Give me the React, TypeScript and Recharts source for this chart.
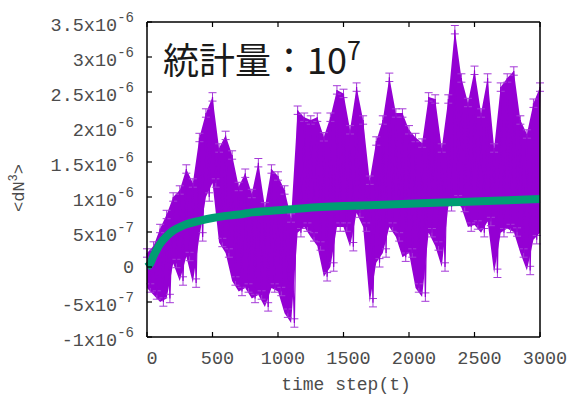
import { ComposedChart, Line, Area, XAxis, YAxis, ErrorBar } from 'recharts';

// time step readings (every 50) with upper / lower envelope of <dN^3>, in units of 1e-7
const T = [
  0, 50, 100, 150, 200, 250, 300, 350, 400, 450, 500, 550, 600, 650, 700, 750, 800, 850, 900, 950,
  1000, 1050, 1100, 1150, 1200, 1250, 1300, 1350, 1400, 1450, 1500, 1550, 1600, 1650, 1700, 1750,
  1800, 1850, 1900, 1950, 2000, 2050, 2100, 2150, 2200, 2250, 2300, 2350, 2400, 2450, 2500, 2550,
  2600, 2650, 2700, 2750, 2800, 2850, 2900, 2950, 3000,
];
const HI = [
  2, 3, 5.5, 7.5, 10, 11, 14, 12, 18.5, 22, 24.3, 17, 18.8, 16, 11.5, 13.4, 10.5, 14.9, 8.6, 14,
  13, 11, 7, 22.4, 21.4, 21, 21.4, 18.6, 21.4, 25.3, 24.8, 19.6, 25.7, 21, 12.4, 18,
  21, 27.1, 22, 22, 19.6, 18.5, 17.7, 24.3, 24, 17, 24, 33.9, 27, 23.5, 28.1, 22,
  27, 17, 25.7, 27, 28, 21, 19, 23.4, 25.7,
];
const LO = [
  -3, -4, -5, -4.5, 0.5, -2, 1.5, -2.3, 4.3, 10, 12, 3.5, 2, -2, -3.5, -3, -4.5, -4, -5.7, -3,
  -3.5, -6.6, -8, 4.9, 5.7, 4.3, 3, -1.4, 0, 5.7, 5.7, 2.9, 7.7, 5.7, -5.1, 0.6,
  2, 5.7, 4.3, 1.4, 2, -3, -4.3, 4.9, 3, 0, 8.6, 9.6, 8.5, 5.7, 6, 4.9,
  6.5, -0.9, 4.9, 5.5, 5, 2, -0.5, 3.9, 4.9,
];
const ERR = 0.6;

// fitted curve
const FIT_T = [0, 25, 50, 75, 100, 150, 200, 250, 300, 400, 500, 600, 700, 800, 1000, 1200, 1500, 1800, 2100, 2400, 2700, 3000];
const FIT_V = [0, 0.5, 1.6, 2.5, 3.3, 4.4, 5.2, 5.7, 6.1, 6.6, 7.0, 7.3, 7.5, 7.8, 8.1, 8.4, 8.7, 8.9, 9.1, 9.3, 9.5, 9.7];

const X_TICKS = [0, 500, 1000, 1500, 2000, 2500, 3000];
const Y_TICKS = [-10, -5, 0, 5, 10, 15, 20, 25, 30, 35];

const PURPLE = '#9400d3';
const GREEN = '#009e73';
const INK = '#4c4c4c';
const MONO = '"Liberation Mono", "DejaVu Sans Mono", monospace';
const P = { l: 147, r: 540, t: 22, b: 337 };

// one row every 25 steps: upper value on the reading, lower value half way to the next
const rows: any[] = [];
T.forEach((t, i) => {
  rows.push({ t, band: [LO[i], HI[i]], v: HI[i], e: ERR });
  if (i < T.length - 1) rows.push({ t: t + 25, v: LO[i], e: ERR });
});
FIT_T.forEach((t, i) => {
  const r = rows.find((d) => d.t === t);
  if (r) r.g = FIT_V[i];
});

function fmtY(v: number) {
  if (v === 0) return { base: '0', exp: '' };
  if (Math.abs(v) === 5) return { base: `${v}x10`, exp: '-7' };
  return { base: `${v / 10}x10`, exp: '-6' };
}

const LeftTick = (props: any) => {
  const { y, payload } = props;
  const { base, exp } = fmtY(payload.value);
  return (
    <g>
      <line x1={P.l} x2={P.l + 5} y1={y} y2={y} stroke="#000" strokeWidth={1.2} />
      <text x={134} y={y + (exp ? 9 : 6)} textAnchor="end" fill={INK} fontFamily={MONO} fontSize={18.5}>
        {base}
        {exp && <tspan dy={-9} fontSize={14}>{exp}</tspan>}
      </text>
    </g>
  );
};

const RightTick = (props: any) => (
  <line x1={P.r} x2={P.r - 5} y1={props.y} y2={props.y} stroke="#000" strokeWidth={1.2} />
);

const BottomTick = (props: any) => {
  const { x, payload } = props;
  return (
    <g>
      <line x1={x} x2={x} y1={P.b} y2={P.b - 5} stroke="#000" strokeWidth={1.2} />
      <text x={x + 5} y={364} textAnchor="middle" fill={INK} fontFamily={MONO} fontSize={18.5}>
        {payload.value}
      </text>
    </g>
  );
};

const TopTick = (props: any) => (
  <line x1={props.x} x2={props.x} y1={P.t} y2={P.t + 5} stroke="#000" strokeWidth={1.2} />
);

export default function App() {
  return (
    <div style={{ position: 'absolute', left: 0, top: 0, width: 569, height: 398, background: '#fff' }}>
      <ComposedChart width={569} height={398} data={rows} margin={{ top: 0, right: 0, bottom: 0, left: 0 }}>
        <XAxis
          xAxisId="b"
          dataKey="t"
          type="number"
          domain={[0, 3000]}
          ticks={X_TICKS}
          height={61}
          axisLine={{ stroke: '#000', strokeWidth: 1.5 }}
          tickLine={false}
          tick={<BottomTick />}
          interval={0}
        />
        <XAxis
          xAxisId="top"
          orientation="top"
          dataKey="t"
          type="number"
          domain={[0, 3000]}
          ticks={X_TICKS}
          height={22}
          axisLine={{ stroke: '#000', strokeWidth: 1.5 }}
          tickLine={false}
          tick={<TopTick />}
          interval={0}
        />
        <YAxis
          yAxisId="l"
          type="number"
          domain={[-10, 35]}
          ticks={Y_TICKS}
          width={147}
          axisLine={{ stroke: '#000', strokeWidth: 1.5 }}
          tickLine={false}
          tick={<LeftTick />}
          interval={0}
        />
        <YAxis
          yAxisId="r"
          orientation="right"
          type="number"
          domain={[-10, 35]}
          ticks={Y_TICKS}
          width={29}
          axisLine={{ stroke: '#000', strokeWidth: 1.5 }}
          tickLine={false}
          tick={<RightTick />}
          interval={0}
        />
        <Area
          xAxisId="b"
          yAxisId="l"
          dataKey="band"
          type="linear"
          stroke="none"
          fill={PURPLE}
          fillOpacity={1}
          connectNulls
          isAnimationActive={false}
        />
        <Line
          xAxisId="b"
          yAxisId="l"
          dataKey="v"
          type="linear"
          stroke={PURPLE}
          strokeWidth={1.2}
          dot={false}
          isAnimationActive={false}
        >
          <ErrorBar dataKey="e" width={4} stroke="#a53ad8" strokeWidth={1} isAnimationActive={false} />
        </Line>
        <Line
          xAxisId="b"
          yAxisId="l"
          dataKey="g"
          type="monotone"
          stroke={GREEN}
          strokeWidth={8}
          dot={false}
          connectNulls
          isAnimationActive={false}
        />
      </ComposedChart>
      <svg width={569} height={398} style={{ position: 'absolute', left: 0, top: 0, pointerEvents: 'none' }}>
        <text x={163} y={74} fontFamily='"Noto Sans CJK JP", "Noto Sans", sans-serif' fontSize={36} fill="#1a1a1a">
          統計量：10<tspan dy={-14} fontSize={25}>7</tspan>
        </text>
        <text x={346} y={390} textAnchor="middle" fontFamily={MONO} fontSize={18} fill={INK}>
          time step(t)
        </text>
        <text
          transform="translate(24, 188) rotate(-90)"
          textAnchor="middle"
          fontFamily={MONO}
          fontSize={17}
          fill={INK}
        >
          &lt;dN<tspan dy={-7} fontSize={12}>3</tspan><tspan dy={7}>&gt;</tspan>
        </text>
      </svg>
    </div>
  );
}
